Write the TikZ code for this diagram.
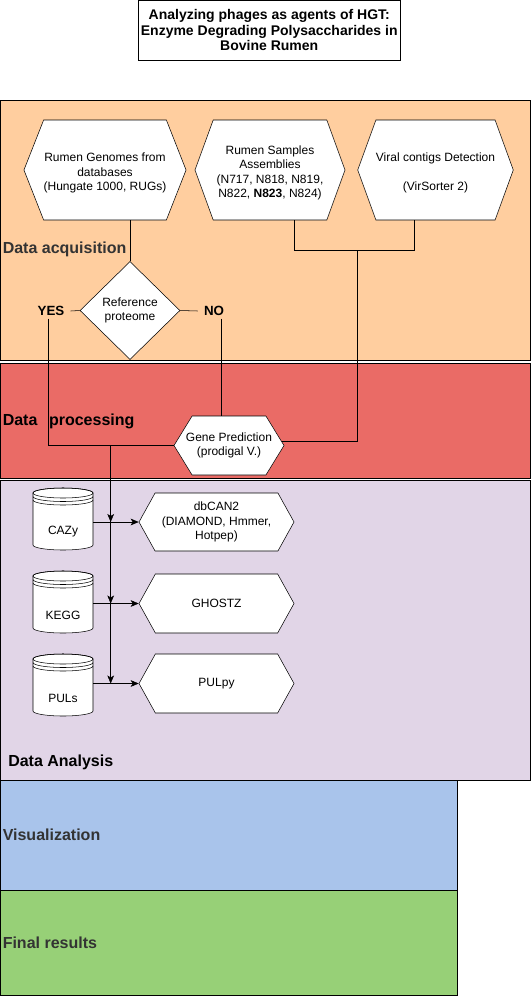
\documentclass[tikz,border=0pt]{standalone}
\usepackage{fontspec}
\setmainfont{Liberation Sans}
\usetikzlibrary{shapes.geometric,shapes.symbols,arrows.meta}
\definecolor{acqfill}{HTML}{FFCE9F}
\definecolor{procfill}{HTML}{EA6B66}
\definecolor{anafill}{HTML}{E1D5E7}
\definecolor{visfill}{HTML}{A9C4EB}
\definecolor{finfill}{HTML}{97D077}
\definecolor{lanegray}{HTML}{333333}

\begin{document}
\begin{tikzpicture}[x=0.75pt,y=-0.75pt,
	font=\fontsize{9}{10.8}\selectfont,
	hexa/.style={signal, signal to=east and west, draw, fill=white, align=center, inner sep=0pt},
	lane/.style={anchor=west, font=\fontsize{12}{14.4}\selectfont\bfseries, inner sep=0pt},
	answer/.style={font=\bfseries, inner xsep=4.5pt, inner ysep=2pt},
	dbase/.style={minimum width=45pt, inner sep=0pt},
	flow/.style={-{Stealth[length=6pt,width=5pt,inset=1.5pt]}}]
		\useasboundingbox (0,0) rectangle (531,996);
		% swimlanes
		\draw[fill=acqfill] (0.5,100) rectangle (530.5,360);
		\draw[fill=procfill] (0.5,363) rectangle (530.5,478);
		\draw[fill=anafill] (0.5,480) rectangle (530.5,780);
		\draw[fill=visfill] (0.5,780) rectangle (457,890);
		\draw[fill=finfill] (0.5,890) rectangle (457,995);
		\node[lane, text=lanegray] (acqlabel) at (2.5,249) {Data acquisition};
		\node[lane] (proclabel) at (2.5,421) {Data\hspace{8.7pt}processing};
		\node[lane] (analabel) at (8,762) {Data Analysis};
		\node[lane, text=lanegray] (vislabel) at (2.5,835) {Visualization};
		\node[lane, text=lanegray] (finlabel) at (2.5,943) {Final results};
		
		\node[draw, fill=white, align=center, inner sep=0pt, font=\fontsize{10.5}{11.7}\selectfont\bfseries,
			minimum width=196.1pt, minimum height=44.6pt] (title) at (269.25,30.25)
			{Analyzing phages as agents of HGT:\\Enzyme Degrading Polysaccharides in\\Bovine Rumen};
		
		% inputs
		\node[hexa, minimum width=112.5pt, minimum height=75pt, signal pointer angle=137] (genomes) at (105,170)
			{\rule{0pt}{11pt}Rumen Genomes from\\databases\\(Hungate 1000, RUGs)};
		\node[hexa, minimum width=112.5pt, minimum height=75pt, signal pointer angle=140] (samples) at (270,170)
			{\rule{0pt}{11pt}Rumen Samples\\Assemblies\\(N717, N818, N819,\\N822, \textbf{N823}, N824)};
		\node[hexa, minimum width=112.5pt, minimum height=75pt, signal pointer angle=140] (virsorter) at (435.5,170)
			{\rule{0pt}{11pt}Viral contigs Detection\\[10.8pt](VirSorter 2)};
		\node[diamond, draw, fill=white, align=center, inner sep=0pt, minimum width=75pt, minimum height=73.5pt] (refprot) at (130,310.5)
			{Reference\\proteome};
		\node[answer] (yes) at (51,311) {YES};
		\node[answer] (no) at (214,311) {NO};
		\node[hexa, minimum width=82.5pt, minimum height=44.25pt, signal pointer angle=117] (prodigal) at (229,445.5)
			{\makebox[40pt]{Gene Prediction}\\\makebox[40pt]{(prodigal V.)}};
		
		% annotation tools
		\node[hexa, minimum width=116.25pt, minimum height=43.5pt, signal pointer angle=122] (dbcan) at (216.5,522)
			{dbCAN2\\(DIAMOND, Hmmer,\\Hotpep)};
		\node[hexa, minimum width=116.25pt, minimum height=44.25pt, signal pointer angle=122] (ghostz) at (216.5,603.5) {GHOSTZ};
		\node[hexa, minimum width=116.25pt, minimum height=44.25pt, signal pointer angle=122] (pulpy) at (216.5,683.5) {PULpy};
		
		\foreach \db/\dbname/\ytop in {cazy/CAZy/488, kegg/KEGG/571, puls/PULs/654} {
			\draw[fill=white] (33,\ytop+5) -- (33,\ytop+57) arc[start angle=180, end angle=360, x radius=22.5pt, y radius=3.75pt]
				-- (93,\ytop+5) arc[start angle=0, end angle=180, x radius=22.5pt, y radius=3.75pt] -- cycle;
			\draw (63,\ytop+5) ellipse[x radius=22.5pt, y radius=3.75pt];
			\draw (33,\ytop+8.5) arc[start angle=180, end angle=360, x radius=22.5pt, y radius=3.75pt];
			\draw (33,\ytop+12) arc[start angle=180, end angle=360, x radius=22.5pt, y radius=3.75pt];
			\node[dbase] (\db) at (63,\ytop+44) {\dbname};
		}
		
		% connectors
		\draw (refprot.north) -- (refprot.north |- genomes.south);
		\draw (refprot.west) -- (yes.east);
		\draw (refprot.east) -- (no.west);
		\draw ([xshift=-2.25pt]yes.south) |- (prodigal.west);
		\draw ([xshift=5.25pt]no.south) -- ([xshift=5.25pt]no.south |- prodigal.north);
		
		\coordinate (mergeL) at (294,250);
		\coordinate (mergeR) at (414,250);
		\coordinate (mergeC) at (357.5,250);
		\draw (mergeL |- samples.south) -- (mergeL) -- (mergeR) -- (mergeR |- virsorter.south);
		\draw (mergeC) |- ([shift={(-2.5,-4.5)}]prodigal.east);
		
		\coordinate (split) at ([xshift=-47.25pt]prodigal.west);
		\foreach \db/\tool in {cazy/dbcan, kegg/ghostz, puls/pulpy} {
			\draw[flow] (split) -- (split |- \tool.west);
			\draw[flow] (\db.east |- \tool.west) -- (\tool.west);
		}
	\end{tikzpicture}
\end{document}
